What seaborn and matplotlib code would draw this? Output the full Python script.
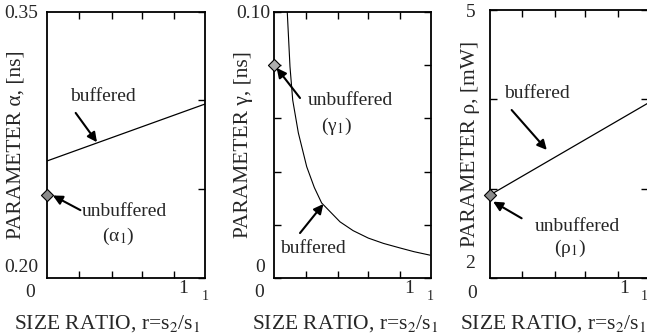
import matplotlib
matplotlib.use('Agg')
import matplotlib.pyplot as plt
import seaborn as sns

# parameter alpha [ns] vs size ratio
alpha_r = [0.1, 1.13]
alpha_buf = [0.266, 0.298]
alpha_1 = 0.247

# parameter gamma [ns] vs size ratio
gamma_r = [0.187, 0.205, 0.223, 0.260, 0.315, 0.365, 0.413, 0.534, 0.62, 0.72, 0.82, 0.928, 1.02, 1.125]
gamma_buf = [0.100, 0.0794, 0.0668, 0.0545, 0.0418, 0.0340, 0.0282, 0.0211, 0.0178, 0.0150, 0.0130, 0.0113, 0.0099, 0.0086]
gamma_1 = 0.080

# parameter rho [mW] vs size ratio
rho_r = [0.1, 1.13]
rho_buf = [2.93, 3.96]
rho_1 = 2.935

r_unbuf = 0.1

sns.set_style('ticks')
plt.rcParams['font.family'] = ['Liberation Serif', 'DejaVu Serif']
plt.rcParams['mathtext.fontset'] = 'stix'

fig = plt.figure(figsize=(6.47, 3.35), dpi=100)
ax1 = fig.add_axes([0.0731, 0.170, 0.2437, 0.795])
ax2 = fig.add_axes([0.4235, 0.170, 0.2422, 0.795])
ax3 = fig.add_axes([0.7573, 0.170, 0.2447, 0.800])


def style(ax, ylim, yticks, left=True):
    ax.set_xlim(0.1, 1.13)
    ax.set_ylim(*ylim)
    ax.set_xticks([0.31, 0.52, 0.72, 0.93])
    ax.set_yticks(yticks)
    ax.tick_params(direction='in', top=True, right=True, left=left, length=5, width=1,
                   labelbottom=False, labelleft=False, color='k')
    for s in ax.spines.values():
        s.set_visible(True)
        s.set_linewidth(1.3)
        s.set_color('k')
    ax.set_xlabel('')
    ax.set_ylabel('')


def arrow(ax, head, tail):
    ax.annotate('', xy=head, xytext=tail, xycoords='axes fraction', textcoords='axes fraction',
                arrowprops=dict(arrowstyle='-|>', color='k', lw=1.5, mutation_scale=14,
                                shrinkA=0, shrinkB=0))


def xlabels(ax, x0, x1, x1b, xlab):
    ax.text(x0, -0.056, '0', transform=ax.transAxes, ha='center', va='center', fontsize=14)
    ax.text(x1, -0.038, '1', transform=ax.transAxes, ha='center', va='center', fontsize=14)
    ax.text(x1b, -0.07, '1', transform=ax.transAxes, ha='center', va='center', fontsize=10)
    ax.text(xlab, -0.13, 'SIZE RATIO, r=s$_2$/s$_1$', transform=ax.transAxes,
            ha='center', va='top', fontsize=15.5)


# panel 1
sns.lineplot(x=alpha_r, y=alpha_buf, ax=ax1, color='k', lw=0.9)
sns.scatterplot(x=[r_unbuf], y=[alpha_1], ax=ax1, marker='D', s=38, color='#8a8a8a',
                edgecolor='k', linewidth=0.8, clip_on=False, zorder=5)
style(ax1, (0.20, 0.35), [0.20, 0.25, 0.30, 0.35], left=False)
ax1.text(-0.059, 0.995, '0.35', transform=ax1.transAxes, ha='right', va='center', fontsize=14)
ax1.text(-0.059, 0.041, '0.20', transform=ax1.transAxes, ha='right', va='center', fontsize=14)
ax1.text(-0.141, 0.5, 'PARAMETER α, [ns]', transform=ax1.transAxes, rotation=90,
         ha='right', va='center', fontsize=15.5)
ax1.text(0.353, 0.68, 'buffered', transform=ax1.transAxes, ha='center', va='center', fontsize=14)
arrow(ax1, (0.315, 0.51), (0.18, 0.62))
ax1.text(0.49, 0.25, 'unbuffered', transform=ax1.transAxes, ha='center', va='center', fontsize=14)
ax1.text(0.45, 0.158, '(α$_1$)', transform=ax1.transAxes, ha='center', va='center', fontsize=14)
arrow(ax1, (0.035, 0.31), (0.21, 0.255))
xlabels(ax1, -0.11, 0.86, 1.0, 0.377)

# panel 2
sns.lineplot(x=gamma_r, y=gamma_buf, ax=ax2, color='k', lw=0.8)
sns.scatterplot(x=[r_unbuf], y=[gamma_1], ax=ax2, marker='D', s=38, color='#b0b0b0',
                edgecolor='k', linewidth=0.8, clip_on=False, zorder=5)
style(ax2, (0, 0.10), [0, 0.02, 0.04, 0.06, 0.08, 0.10])
ax2.text(-0.026, 0.995, '0.10', transform=ax2.transAxes, ha='right', va='center', fontsize=14)
ax2.text(-0.057, 0.041, '0', transform=ax2.transAxes, ha='right', va='center', fontsize=14)
ax2.text(-0.136, 0.5, 'PARAMETER γ, [ns]', transform=ax2.transAxes, rotation=90,
         ha='right', va='center', fontsize=15.5)
ax2.text(0.485, 0.668, 'unbuffered', transform=ax2.transAxes, ha='center', va='center', fontsize=14)
ax2.text(0.40, 0.568, '(γ$_1$)', transform=ax2.transAxes, ha='center', va='center', fontsize=14)
arrow(ax2, (0.017, 0.789), (0.166, 0.676))
ax2.text(0.25, 0.11, 'buffered', transform=ax2.transAxes, ha='center', va='center', fontsize=14)
arrow(ax2, (0.315, 0.278), (0.166, 0.169))
xlabels(ax2, -0.096, 0.862, 0.995, 0.453)

# panel 3
sns.lineplot(x=rho_r, y=rho_buf, ax=ax3, color='k', lw=0.9)
sns.scatterplot(x=[r_unbuf], y=[rho_1], ax=ax3, marker='D', s=38, color='#8a8a8a',
                edgecolor='k', linewidth=0.8, clip_on=False, zorder=5)
style(ax3, (2, 5), [2, 3, 4, 5])
ax3.text(-0.089, 0.989, '5', transform=ax3.transAxes, ha='right', va='center', fontsize=14)
ax3.text(-0.095, 0.056, '2', transform=ax3.transAxes, ha='right', va='center', fontsize=14)
ax3.text(-0.063, 0.5, 'PARAMETER ρ, [mW]', transform=ax3.transAxes, rotation=90,
         ha='right', va='center', fontsize=15.5)
ax3.text(0.295, 0.689, 'buffered', transform=ax3.transAxes, ha='center', va='center', fontsize=14)
arrow(ax3, (0.359, 0.478), (0.137, 0.627))
ax3.text(0.549, 0.191, 'unbuffered', transform=ax3.transAxes, ha='center', va='center', fontsize=14)
ax3.text(0.506, 0.111, '(ρ$_1$)', transform=ax3.transAxes, ha='center', va='center', fontsize=14)
arrow(ax3, (0.02, 0.285), (0.2, 0.223))
xlabels(ax3, -0.114, 0.845, 0.975, 0.40)

fig.savefig('out.png', dpi=100)
